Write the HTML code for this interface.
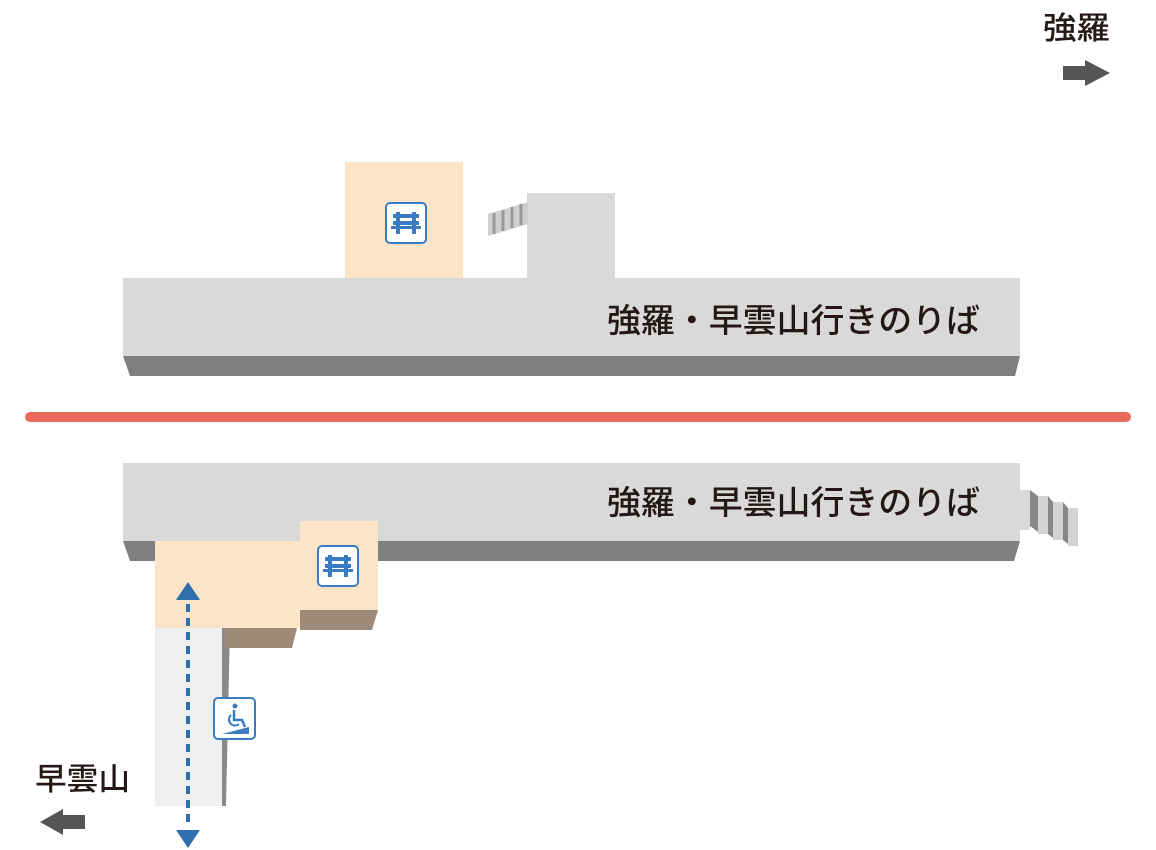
<!DOCTYPE html>
<html><head><meta charset="utf-8"><style>
html,body{margin:0;padding:0;background:#fff;}
svg{display:block;}
text{font-family:"Liberation Sans","Noto Sans CJK JP",sans-serif;fill:#231815;font-weight:500;}
</style></head><body>
<svg width="1156" height="850" viewBox="0 0 1156 850" xmlns="http://www.w3.org/2000/svg">
<defs>
<g id="bench">
<rect x="1" y="1" width="40" height="40" rx="4" fill="#fff" stroke="#3a7cc3" stroke-width="2"/>
<rect x="8" y="12" width="26" height="4" fill="#3a7cc3"/>
<rect x="8" y="19" width="26" height="4" fill="#3a7cc3"/>
<rect x="6" y="24" width="30" height="3" fill="#3a7cc3"/>
<rect x="11" y="10" width="4" height="22" fill="#3a7cc3"/>
<rect x="27" y="10" width="4" height="22" fill="#3a7cc3"/>
</g>
</defs>
<text x="1043" y="39" font-size="31" textLength="67" lengthAdjust="spacingAndGlyphs">強羅</text>
<polygon points="1063,66 1085,66 1085,60 1110,73 1085,86 1085,80 1063,80" fill="#555"/>
<text x="35" y="790" font-size="31" textLength="95" lengthAdjust="spacingAndGlyphs">早雲山</text>
<polygon points="85,815 63,815 63,809 40,822 63,835 63,829 85,829" fill="#555"/>

<rect x="345" y="162" width="118" height="116" fill="#fce4c8"/>
<use href="#bench" x="385" y="202"/>
<rect x="527" y="193" width="88" height="85" fill="#d9d9d9"/>
<polygon points="488,214 528,202 528,224 488,236" fill="#cfcfcf"/>
<g stroke="#999" stroke-width="3"><line x1="494" y1="213" x2="494" y2="234"/><line x1="503" y1="210" x2="503" y2="231"/><line x1="512" y1="207" x2="512" y2="228"/><line x1="521" y1="204" x2="521" y2="225"/></g>
<rect x="123" y="278" width="897" height="78" fill="#d9d9d9"/>
<polygon points="123,356 1020,356 1015,376 130,376" fill="#7f7f7f"/>
<text x="607" y="332" font-size="33" textLength="373" lengthAdjust="spacingAndGlyphs">強羅・早雲山行きのりば</text>

<line x1="30" y1="417" x2="1126" y2="417" stroke="#e8685a" stroke-width="10" stroke-linecap="round"/>

<rect x="123" y="463" width="897" height="78" fill="#d9d9d9"/>
<polygon points="123,541 1020,541 1014,561 130,561" fill="#7f7f7f"/>
<text x="607" y="514" font-size="33" textLength="373" lengthAdjust="spacingAndGlyphs">強羅・早雲山行きのりば</text>
<polygon points="1020,490 1030,490 1030,530 1020,530" fill="#d9d9d9"/>
<polygon points="1030,490 1038,496 1038,532 1030,526" fill="#888"/>
<rect x="1038" y="496" width="10" height="38" fill="#d4d4d4"/>
<polygon points="1048,496 1053,502 1053,538 1048,534" fill="#888"/>
<rect x="1053" y="502" width="10" height="38" fill="#d4d4d4"/>
<polygon points="1063,502 1068,508 1068,544 1063,540" fill="#888"/>
<rect x="1068" y="508" width="10" height="38" fill="#d4d4d4"/>

<rect x="155" y="628" width="67" height="178" fill="#eef0f0"/>
<polygon points="222,628 230,628 226,806 222,806" fill="#8a8a8a"/>
<polygon points="300,610 378,610 372,630 300,630" fill="#9e8a78"/>
<polygon points="225,628 297,628 292,648 225,648" fill="#9e8a78"/>
<polygon points="155,541 300,541 300,521 378,521 378,610 300,610 300,628 155,628" fill="#fce4c8"/>
<use href="#bench" x="317" y="545"/>
<rect x="214" y="698" width="41" height="41" rx="4" fill="#fff" stroke="#3a7cc3" stroke-width="2"/>
<circle cx="235" cy="706" r="2.5" fill="#3a7cc3"/>
<path d="M234,710 L234,720 L242,720 L245,727" fill="none" stroke="#3a7cc3" stroke-width="2.5"/>
<path d="M231,715 A6,6 0 1 0 239,724" fill="none" stroke="#3a7cc3" stroke-width="2"/>
<polygon points="222,734 249,727 249,734" fill="#3a7cc3"/>
<line x1="188" y1="604" x2="188" y2="828" stroke="#2f6fae" stroke-width="4" stroke-dasharray="8,6"/>
<polygon points="188,582 176,600 200,600" fill="#2f6fae"/>
<polygon points="188,848 176,830 200,830" fill="#2f6fae"/>
</svg>
</body></html>
